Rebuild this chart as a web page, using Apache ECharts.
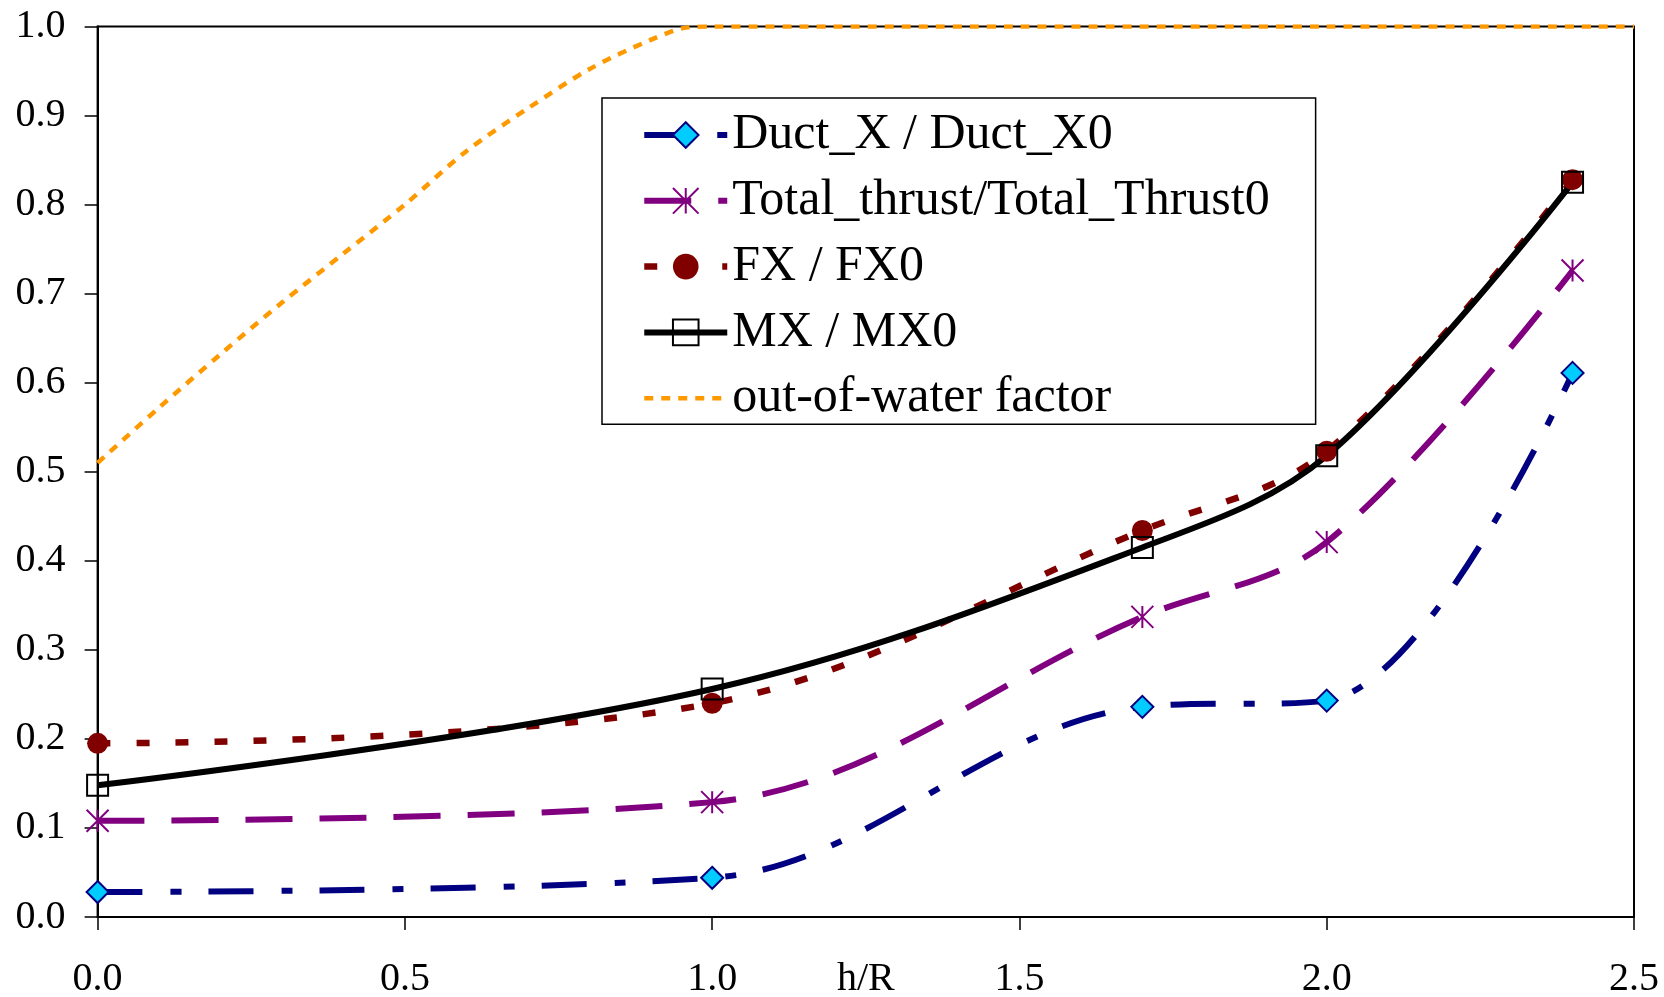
<!DOCTYPE html>
<html>
<head>
<meta charset="utf-8">
<script src="https://cdn.jsdelivr.net/npm/echarts@6/dist/echarts.min.js"></script>
<style>
html,body{margin:0;padding:0;background:#fff;}
#chart{width:1664px;height:997px;}
</style>
</head>
<body>
<div id="chart"></div>
<script>
// ---- data ----
const xValues = [0.0, 1.0, 1.7, 2.0, 2.4];
const ductX = [0.028, 0.044, 0.236, 0.243, 0.611];
const totalThrust = [0.108, 0.129, 0.337, 0.421, 0.726];
const fxRatio = [0.195, 0.240, 0.434, 0.523, 0.828];
const mxRatio = [0.148, 0.256, 0.415, 0.518, 0.825];
const outOfWaterX = [0.0, 0.1, 0.2, 0.3, 0.4, 0.5, 0.6, 0.7, 0.8, 0.9, 0.96, 1.0, 1.5, 2.0, 2.5];
const outOfWaterY = [0.51, 0.572, 0.632, 0.69, 0.745, 0.80, 0.86, 0.908, 0.952, 0.985, 0.999, 1.0, 1.0, 1.0, 1.0];
const seriesNames = ['Duct_X / Duct_X0', 'Total_thrust/Total_Thrust0', 'FX / FX0', 'MX / MX0', 'out-of-water factor'];
const xAxisName = 'h/R';

function pairs(xs, ys) { return xs.map((x, i) => [x, ys[i]]); }

const FONT = '"Liberation Serif", "Times New Roman", serif';
const starPath = 'path://M10,0 L10,20 M0,0 L20,20 M20,0 L0,20';

const styles = [
  { symbol: 'diamond', symbolSize: 22,
    itemStyle: { color: '#00CCFF', borderColor: '#000080', borderWidth: 2 },
    lineStyle: { color: '#000080', width: 6, type: [45, 28, 11, 27] } },
  { symbol: starPath, symbolSize: 22,
    itemStyle: { color: '#800080', borderColor: '#800080', borderWidth: 2 },
    lineStyle: { color: '#800080', width: 6, type: [47, 27] } },
  { symbol: 'circle', symbolSize: 21,
    itemStyle: { color: '#800000', borderColor: '#800000', borderWidth: 0 },
    lineStyle: { color: '#800000', width: 6.5, type: [13, 26] } },
  { symbol: 'rect', symbolSize: 21,
    itemStyle: { color: 'rgba(255,255,255,0)', borderColor: '#000', borderWidth: 2 },
    lineStyle: { color: '#000', width: 6, type: 'solid' } },
  { symbol: 'none', symbolSize: 0,
    itemStyle: { color: '#FF9900' },
    lineStyle: { color: '#FF9900', width: 4.5, type: [9, 8] } }
];
const seriesData = [
  pairs(xValues, ductX), pairs(xValues, totalThrust), pairs(xValues, fxRatio),
  pairs(xValues, mxRatio), pairs(outOfWaterX, outOfWaterY)
];

const legendData = seriesNames.map((n, i) => {
  const d = { name: n, lineStyle: Object.assign({}, styles[i].lineStyle) };
  if (i === 4) d.itemStyle = { color: 'rgba(0,0,0,0)', borderWidth: 0, opacity: 0 };
  return d;
});

const chart = echarts.init(document.getElementById('chart'));
const option = {
  backgroundColor: '#fff',
  animation: false,
  grid: {
    left: 97.6, right: 30, top: 26.5, bottom: 80,
    outerBoundsMode: 'none', containLabel: false,
    show: true, borderColor: '#000', borderWidth: 2, backgroundColor: 'transparent'
  },
  xAxis: {
    type: 'value', min: 0, max: 2.5, interval: 0.5,
    name: xAxisName, nameLocation: 'middle', nameGap: 42, nameMoveOverlap: false,
    nameTextStyle: { fontFamily: FONT, fontSize: 40, color: '#000', verticalAlign: 'top' },
    axisLine: { show: true, lineStyle: { color: '#000', width: 2 } },
    axisTick: { show: true, inside: false, length: 13, lineStyle: { color: '#000', width: 1.5 } },
    splitLine: { show: false },
    axisLabel: { margin: 42, fontFamily: FONT, fontSize: 40, color: '#000', formatter: v => v.toFixed(1) }
  },
  yAxis: {
    type: 'value', min: 0, max: 1, interval: 0.1,
    axisLine: { show: true, lineStyle: { color: '#000', width: 2 } },
    axisTick: { show: true, inside: false, length: 13, lineStyle: { color: '#000', width: 1.5 } },
    splitLine: { show: false },
    axisLabel: { margin: 32, fontFamily: FONT, fontSize: 40, color: '#000', formatter: v => v.toFixed(1) }
  },
  legend: {
    orient: 'vertical', left: 602, top: 98,
    padding: [12, 46, 1, 39],
    itemWidth: 83, itemHeight: 32, itemGap: 15.8,
    borderColor: '#000', borderWidth: 1.5, backgroundColor: '#fff',
    textStyle: { fontFamily: FONT, fontSize: 50, lineHeight: 50, color: '#000' },
    data: legendData
  },
  series: seriesNames.map((n, i) => Object.assign({
    name: n, type: 'line', data: seriesData[i], smooth: i === 4 ? 0.3 : 0.35, clip: true
  }, styles[i]))
};
chart.setOption(option);
</script>
</body>
</html>
